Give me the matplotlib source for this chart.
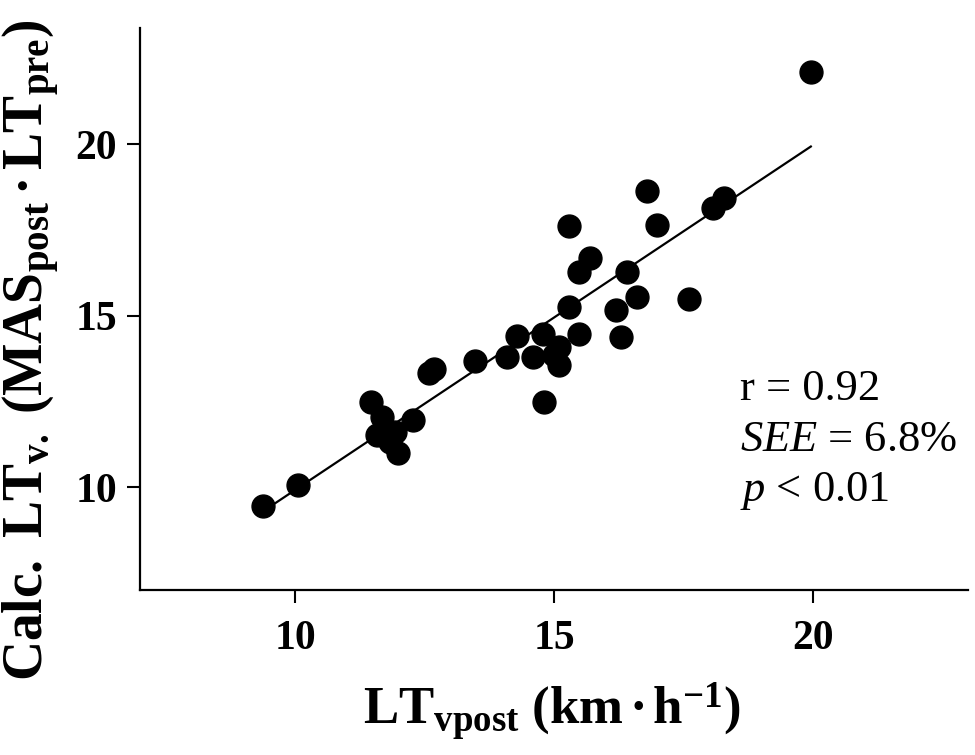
import matplotlib
matplotlib.use('Agg')
import matplotlib.pyplot as plt

# measured LTvpost (x) vs calculated LTv. (y), km/h
lt_vpost = [9.38, 10.06, 11.47, 11.67, 11.57, 11.93, 11.83, 11.99, 12.28, 12.59,
            12.68, 13.48, 14.09, 14.60, 15.00, 15.10, 15.10, 14.28, 14.78, 14.80,
            15.49, 15.29, 15.29, 15.69, 15.49, 16.40, 16.61, 16.20, 16.30, 17.60,
            16.79, 16.98, 18.07, 18.28, 19.96]
calc_ltv = [9.44, 10.06, 12.49, 12.06, 11.52, 11.62, 11.32, 10.99, 11.96, 13.34,
            13.45, 13.69, 13.79, 13.79, 13.86, 14.10, 13.57, 14.40, 14.47, 12.48,
            14.47, 15.27, 17.62, 16.69, 16.27, 16.28, 15.56, 15.18, 14.38, 15.50,
            18.63, 17.64, 18.16, 18.45, 22.10]

# regression line ends
fit_x = [9.38, 19.96]
fit_y = [9.30, 19.94]

x_ticks = [10, 15, 20]
y_ticks = [10, 15, 20]
stats = ['r = 0.92', r'$\mathit{SEE}$ = 6.8%', r'$\mathit{p}$ < 0.01']

plt.rcParams['font.family'] = ['Liberation Serif', 'DejaVu Serif']
plt.rcParams['mathtext.fontset'] = 'custom'
plt.rcParams['mathtext.rm'] = 'Liberation Serif'
plt.rcParams['mathtext.it'] = 'Liberation Serif:italic'
plt.rcParams['mathtext.bf'] = 'Liberation Serif:bold'

fig = plt.figure(figsize=(9.75, 7.55), dpi=100)
ax = fig.add_axes([0.1436, 0.2185, 0.8494, 0.7445])

ax.plot(fit_x, fit_y, color='black', lw=1.6, zorder=2)
ax.plot(lt_vpost, calc_ltv, 'o', color='black', markersize=16.5, zorder=3)

ax.set_xlim(7, 23)
ax.set_ylim(7, 23.4)
ax.set_xticks(x_ticks)
ax.set_yticks(y_ticks)

for side in ['top', 'right']:
    ax.spines[side].set_visible(False)
for side in ['left', 'bottom']:
    ax.spines[side].set_linewidth(1.6)

ax.tick_params(axis='both', direction='out', length=9.5, width=1.5, labelsize=30)
ax.tick_params(axis='x', pad=12)
ax.tick_params(axis='y', pad=7)
for lab in ax.get_xticklabels() + ax.get_yticklabels():
    lab.set_fontweight('bold')

for i, s in enumerate(stats):
    ax.text(0.724, 0.338 - i * 0.09, s, transform=ax.transAxes,
            fontsize=32, ha='left', va='baseline')

fig.text(0.566, 0.058, r'$\mathbf{LT_{vpost}\ (km\,·\,h^{-1})}$',
         fontsize=38, ha='center', va='center')
fig.text(0.032, 0.536, r'$\mathbf{Calc.\ LT_{v.}\ (MAS_{post}\,·\,LT_{pre})}$',
         fontsize=40, ha='center', va='center', rotation=90)

plt.savefig('out.png', dpi=100)
